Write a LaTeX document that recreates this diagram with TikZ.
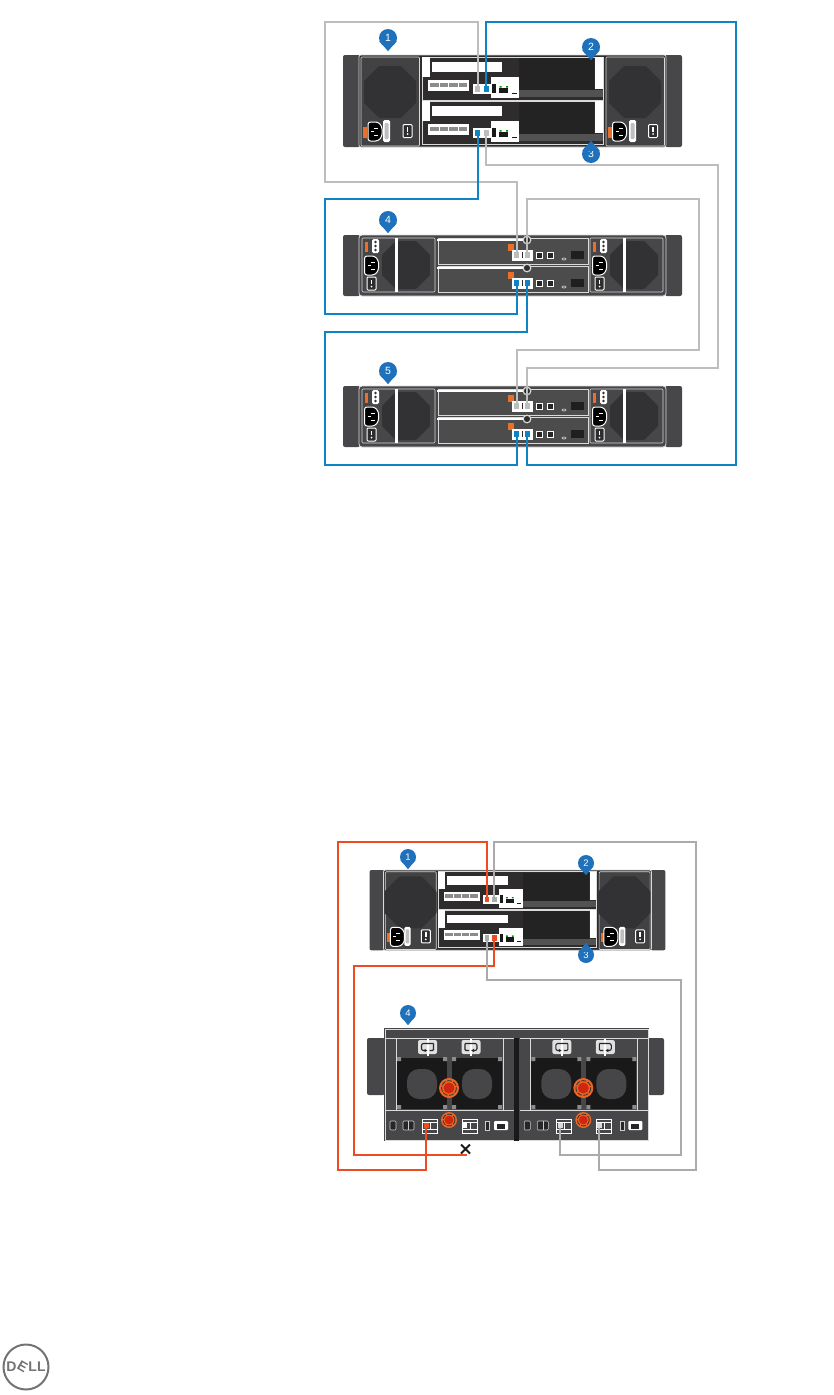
\documentclass[tikz,border=0pt]{standalone}
\usepackage{fontspec}
\setmainfont{Liberation Sans}
\usetikzlibrary{positioning,arrows.meta,calc,shapes.misc}
\definecolor{badgeblue}{HTML}{2071BC}
\definecolor{cableblue}{HTML}{0E84C4}
\definecolor{cablegrey}{HTML}{BDBDBD}
\definecolor{cablegreydk}{HTML}{ABABAB}
\definecolor{cablered}{HTML}{F04A22}
\definecolor{tabgold}{HTML}{E8702A}
\definecolor{earcol}{HTML}{47474A}
\definecolor{panelcol}{HTML}{2E2C2D}
\definecolor{psucol}{HTML}{424244}
\definecolor{fancol}{HTML}{323234}
\definecolor{framecol}{HTML}{DADADA}
\tikzset{
  earbox/.style={fill=earcol,rounded corners=2pt},
  psubox/.style={fill=psucol,draw=framecol,line width=.6pt,rounded corners=1pt},
  modbox/.style={fill=panelcol,draw=framecol,line width=.6pt},
  portnode/.style={rectangle,draw=none,inner sep=0pt,minimum width=5pt,minimum height=6pt,transform shape},
  cablegr/.style={draw=cablegrey,line width=2pt},
  cablegd/.style={draw=cablegreydk,line width=2pt},
  cablebl/.style={draw=cableblue,line width=2pt},
  cablerd/.style={draw=cablered,line width=2pt},
  badge/.style={circle,fill=badgeblue,text=white,minimum size=18pt,inner sep=0pt,font=\fontsize{10.5}{10.5}\selectfont},
  badgesm/.style={badge,minimum size=16pt,font=\fontsize{9.5}{9.5}\selectfont},
  pics/octfan/.style={code={
    \fill[fancol,rounded corners=1pt] (-#1,-.42*#1) -- (-.42*#1,-#1) -- (.42*#1,-#1) -- (#1,-.42*#1)
      -- (#1,.42*#1) -- (.42*#1,#1) -- (-.42*#1,#1) -- (-#1,.42*#1) -- cycle;
  }},
  pics/acsocket/.style={code={
    \filldraw[fill=black,draw=white,line width=1pt,rounded corners=2.5pt] (-7,-9.5) -- (3,-9.5) -- (7,-5) -- (7,5) -- (3,9.5) -- (-7,9.5) -- cycle;
    \draw[white,line width=.7pt] (-1,-3.5) -- (3,-3.5) (-1,3.5) -- (3,3.5) (-4,0) -- (-1,0);
  }},
  pics/rocker/.style={code={
    \filldraw[fill=panelcol,draw=white,line width=1pt,rounded corners=1pt] (-4.5,-6.5) rectangle (4.5,6.5);
    \fill[white] (-.7,-4) rectangle (.7,.5);
    \fill[white] (0,3) circle (1);
  }},
  pics/ctrlunit/.style n args={4}{code={
    \fill[earbox] (0,0) rectangle (17,92);
    \fill[earbox] (322,0) rectangle (339,92);
    \filldraw[fill=panelcol,draw=framecol,line width=.7pt,rounded corners=2pt] (16,0) rectangle (323,92);
    \foreach \px/\sx/\tx/\lx/\rx in {18/32/20/40/64.5, 263/276.5/265/286/310}{
      \draw[psubox] (\px,2) rectangle ++(58.5,89);
      \pic at ({\px+29},37) {octfan=26};
      \fill[tabgold] (\tx,72) rectangle ++(4,11);
      \pic at (\sx,76.5) {acsocket};
      \fill[white,rounded corners=1.5pt] (\lx,65) rectangle ++(7,22);
      \fill[black!25,rounded corners=1pt] (\lx+1.5,68) rectangle ++(4,16);
      \pic at (\rx,76) {rocker};
    }
    \foreach \dy in {0,44}{
      \draw[modbox] (79,2+\dy) rectangle (260,45+\dy);
      \fill[fancol!70!black] (176,3+\dy) rectangle (251,35+\dy);
      \fill[black!68] (176,35+\dy) rectangle (260,42+\dy);
      \fill[white] (79,2+\dy) rectangle (87,22+\dy);
      \fill[white] (89,7+\dy) rectangle (159,17+\dy);
      \fill[white] (252,2+\dy) rectangle (260,34+\dy);
      \fill[white] (85,25+\dy) rectangle (126,36+\dy);
      \foreach \gx in {87,96.5,106,115.5}
        \fill[black!45] (\gx,28+\dy) rectangle ++(8.5,4);
      \fill[white] (130,29+\dy) rectangle (148,39+\dy);
      \fill[white] (148,22+\dy) rectangle (176,43+\dy);
      \fill[black!90] (149,29+\dy) rectangle (153,38+\dy);
      \fill[black!90] (156,33+\dy) rectangle (165,38+\dy);
      \fill[green!55!black] (156.5,31+\dy) rectangle ++(2,1.5) (163,31+\dy) rectangle ++(2,1.5);
      \fill[black!90] (169,37.5+\dy) rectangle (174,39+\dy);
    }
    \node[portnode,fill=#1] (-a) at (134.5,34) {};
    \node[portnode,fill=#2] (-b) at (143,34) {};
    \node[portnode,fill=#3] (-c) at (134.5,78) {};
    \node[portnode,fill=#4] (-d) at (143,78) {};
  }},
  pics/encunit/.style n args={4}{code={
    \fill[earbox] (0,0) rectangle (17,61);
    \fill[earbox] (322,0) rectangle (339,61);
    \filldraw[fill=earcol,draw=framecol,line width=.8pt,rounded corners=3pt] (16,0) rectangle (323,61);
    \foreach \px/\fx/\bx/\tx/\dx/\sx/\rx in {19/63/52/22/29/28.5/28.5, 247/291/280/250/257/256.5/256.5}{
      \draw[psubox,fill=earcol] (\px,3) rectangle ++(73,54);
      \pic at (\fx,30) {octfan=24};
      \fill[white] (\bx,3) rectangle ++(3,54);
      \fill[tabgold] (\tx,7) rectangle ++(3,10);
      \fill[white,rounded corners=1.5pt] (\dx,4) rectangle ++(7,14);
      \foreach \ny in {7,11,15}
        \fill[black!80] (\dx+3.5,\ny) circle (1.3);
      \pic at (\sx,30.5) {acsocket};
      \pic at (\rx,48.5) {rocker};
    }
    \foreach \dy in {0,28}{
      \draw[modbox,fill=panelcol!85!white] (95,3+\dy) rectangle (245,29+\dy);
      \draw[white,line width=1.2pt] (94,5+\dy) -- (180,5+\dy);
      \filldraw[fill=panelcol,draw=white!85!black,line width=1.2pt] (184,5+\dy) circle (3.8);
      \fill[tabgold] (165,8.5+\dy) rectangle ++(6,7.5);
      \fill[white] (169,15+\dy) rectangle ++(20.5,10.5);
      \fill[panelcol] (179,17+\dy) rectangle ++(.6,6);
      \foreach \qx in {193,204}
        \filldraw[fill=black!85,draw=white,line width=.7pt] (\qx,17+\dy) rectangle ++(6,6);
      \draw[white!80!black,line width=.7pt] (221,24+\dy) circle[x radius=2,y radius=1];
      \fill[black!88] (228,16+\dy) rectangle (241,24+\dy);
    }
    \node[portnode,fill=#1] (-a) at (173.7,20) {};
    \node[portnode,fill=#2] (-b) at (184.3,20) {};
    \node[portnode,fill=#3] (-c) at (173.7,48) {};
    \node[portnode,fill=#4] (-d) at (184.3,48) {};
  }},
  pics/handlecap/.style={code={
    \fill[white!88!black,rounded corners=2pt] (-9.5,-7) rectangle (9.5,7);
    \fill[white] (-1,-8.5) rectangle (1,8.5);
    \draw[black!85,line width=1.1pt,rounded corners=2pt,-{Latex[length=3pt,width=3.5pt]}] (6,-3.5) -- (-6,-3.5) -- (-6,3.5) -- (0,3.5);
    \draw[black!85,line width=1.1pt,rounded corners=1pt] (6,-3.5) -- (6,3.5) -- (2,3.5);
  }},
  pics/orangering/.style={code={
    \fill[tabgold!90!red] (0,0) circle (#1);
    \draw[black!80,line width=.8pt,dash pattern=on 5pt off 1.5pt] (0,0) circle (.74*#1);
    \fill[red!60!tabgold!85!black] (0,0) circle (.55*#1);
  }},
  pics/jackbox/.style={code={
    \filldraw[fill=earcol,draw=white,line width=.8pt] (0,0) rectangle (15.5,14);
    \draw[white,line width=.8pt] (0,3.5) -- (15.5,3.5) (0,10.5) -- (15.5,10.5) (8,3.5) -- (8,10.5);
  }},
  pics/drivemodule/.style 2 args={code={
    \fill[earcol] (0,0) rectangle (128,102);
    \draw[framecol,line width=.6pt] (0,0) -- (128,0) (0,72) -- (128,72);
    \draw[framecol,line width=.6pt] (10,0) -- (10,72) (117,0) -- (117,72);
    \foreach \fx in {11,66}{
      \fill[black!90] (\fx,20) rectangle ++(50,51);
      \fill[fancol!90!white,rounded corners=12pt] (\fx+10,31) rectangle ++(30,30);
      \fill[black!45] (\fx,19) rectangle ++(4,4) (\fx+46,19) rectangle ++(4,4) (\fx,67) rectangle ++(4,4) (\fx+46,67) rectangle ++(4,4);
    }
    \pic at (41.5,9) {handlecap};
    \pic[xscale=-1] at (85,9) {handlecap};
    \pic at (63,50) {orangering=10};
    \pic at (63,82) {orangering=8};
    \filldraw[fill=black!85,draw=white!80!black,line width=.6pt,rounded corners=1pt] (4,83) rectangle ++(6,9);
    \filldraw[fill=black!85,draw=white!80!black,line width=.6pt,rounded corners=1pt] (17,83) rectangle ++(11,9);
    \draw[white!80!black,line width=.6pt] (22.5,83) -- (22.5,92);
    \pic at (36,81) {jackbox};
    \pic at (76,81) {jackbox};
    \filldraw[fill=black!85,draw=white!80!black,line width=.5pt] (99.5,83) rectangle ++(4,9);
    \fill[white,rounded corners=1pt] (108,83) rectangle ++(14,9);
    \fill[black!85] (111,85.5) rectangle ++(8,5);
    \node[portnode,minimum height=5pt,fill=#1] (-a) at (40,87.5) {};
    \node[portnode,minimum height=5pt,fill=#2] (-b) at (78.7,87.5) {};
  }},
}
\begin{document}
\begin{tikzpicture}[x=1pt,y=-1pt]
  \useasboundingbox (0,0) rectangle (833,1395);

  % upper wiring
  \pic (topc) at (343,55) {ctrlunit={cablegrey}{cableblue}{cableblue}{cablegrey}};
  \pic (encA) at (343,235) {encunit={cablegrey}{cablegrey}{cableblue}{cableblue}};
  \pic (encB) at (343,386) {encunit={cablegrey}{cablegrey}{cableblue}{cableblue}};

  \draw[cablegr] (topc-a.north) |- (325,22) -- (325,182) -| (encA-a.north);
  \draw[cablebl] (topc-b.north) |- (736,22) -- (736,465) -| (encB-d.south);
  \draw[cablebl] (topc-c.south) |- (325,199) -- (325,314) -| (encA-c.south);
  \draw[cablegr] (topc-d.south) |- (718,165) -- (718,368) -| (encB-b.north);
  \draw[cablegr] (encA-b.north) |- (699,199) -- (699,350) -| (encB-a.north);
  \draw[cablebl] (encA-d.south) |- (325,332) -- (325,465) -| (encB-c.south);

  % lower wiring
  \pic[scale=.873] (lowc) at (369.5,870) {ctrlunit={cablered}{cablegreydk}{cablegreydk}{cablered}};
  \fill[earbox] (367,1038) rectangle (385,1095);
  \fill[earbox] (648,1038) rectangle (664,1095);
  \fill[earcol] (384,1028) rectangle (649,1141);
  \draw[framecol,line width=.6pt] (385,1029) rectangle (648,1140);
  \fill[black!90] (514,1038) rectangle (519,1141);
  \pic (jmA) at (386,1038) {drivemodule={cablered}{white}};
  \pic (jmB) at (520.3,1038) {drivemodule={white!85!black}{white!85!black}};
  \node[draw=black!90,cross out,line width=2pt,minimum size=7pt,inner sep=0pt] (stub) at (465.5,1149) {};

  \draw[cablerd] (lowc-a.north) |- (338,842) -- (338,1170) -| (jmA-a.south);
  \draw[cablegd] (lowc-b.north) |- (695.5,842) -- (695.5,1170) -| (jmB-b.south);
  \draw[cablerd] (lowc-d.south) |- (353.5,966) -- (353.5,1155) -| (stub.south);
  \draw[cablegd] (lowc-c.south) |- (681,980) -- (681,1155) -| (jmB-a.south);

  % callouts
  \node[badge] (ba) at (388,38) {1};
  \node[badge] (bb) at (591,47) {2};
  \node[badge] (bc) at (591,154) {3};
  \node[badge] (bd) at (388,220) {4};
  \node[badge] (be) at (388,371) {5};
  \node[badgesm] (bf) at (408,857) {1};
  \node[badgesm] (bg) at (586,863) {2};
  \node[badgesm] (bh) at (586,955) {3};
  \node[badgesm] (bi) at (408,1013) {4};
  \foreach \b in {ba,bb,bd,be,bf,bg,bi}
    \fill[badgeblue] (\b.200) -- ($(\b.south)+(0,4)$) -- (\b.340) -- cycle;
  \fill[badgeblue] (bc.160) -- ($(bc.north)+(0,-4)$) -- (bc.20) -- cycle;
  \fill[badgeblue] (bh.160) -- ($(bh.north)+(0,-4)$) -- (bh.20) -- cycle;

  \node[draw=black!55,circle,line width=2pt,minimum size=45pt,inner sep=0pt,text=black!55,
        font=\bfseries\fontsize{14}{14}\selectfont] (delllogo) at (26,1367) {D\kern-.5pt\rotatebox[origin=c]{-30}{E}\kern-.5pt LL};
\end{tikzpicture}
\end{document}
